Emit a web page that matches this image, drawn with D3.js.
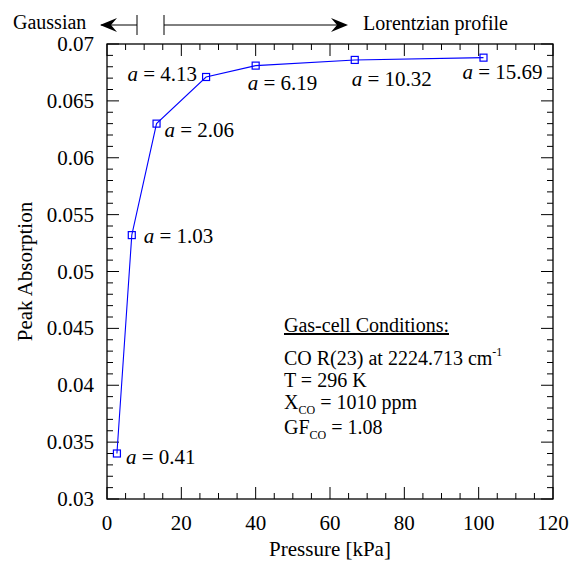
<!DOCTYPE html>
<html><head><meta charset="utf-8">
<script src="https://cdn.jsdelivr.net/npm/d3@7"></script>
</head>
<body style="margin:0">
<svg id="c" width="571" height="562"></svg>
<script>
const pressure = [2.67, 6.67, 13.33, 26.66, 40.0, 66.66, 101.3];
const peakAbs  = [0.0340, 0.0532, 0.0630, 0.0671, 0.0681, 0.0686, 0.0688];
const aLabels  = ["0.41", "1.03", "2.06", "4.13", "6.19", "10.32", "15.69"];
const xTicks = [0, 20, 40, 60, 80, 100, 120];
const yTicks = [0.03, 0.035, 0.04, 0.045, 0.05, 0.055, 0.06, 0.065, 0.07];
const yTickLabels = ["0.03","0.035","0.04","0.045","0.05","0.055","0.06","0.065","0.07"];
const conditions = ["CO R(23) at 2224.713 cm", "T = 296 K", "X", "GF"];

// layout
const labelOffsets = [[9,10,"start"],[12,8,"start"],[8,13,"start"],[-9,4,"end"],[-8,24,"start"],[-3,26,"start"],[-21,21,"start"]];
const L=107, R=553, T=44, B=499;
const FONT='"Liberation Serif"';
const svg=d3.select("#c");
const x=d3.scaleLinear().domain([0,120]).range([L,R]);
const y=d3.scaleLinear().domain([0.03,0.07]).range([B,T]);
function txt(parent,size){return parent.append("text").attr("font-size",size).style("font-family",FONT);}

const g=svg.append("g");
g.append("rect").attr("x",L).attr("y",T).attr("width",R-L).attr("height",B-T)
 .attr("fill","none").attr("stroke","#000").attr("stroke-width",1.3);

const xMinor=d3.range(0,121,5), yMinor=d3.range(0,41).map(i=>0.03+i*0.001);
function isMajorX(v){return Math.abs(v/20-Math.round(v/20))<1e-6;}
function isMajorY(v){return Math.abs(v/0.005-Math.round(v/0.005))<1e-4;}
xMinor.forEach(v=>{
  const len=isMajorX(v)?12:6;
  g.append("line").attr("x1",x(v)).attr("x2",x(v)).attr("y1",B).attr("y2",B-len).attr("stroke","#000");
  g.append("line").attr("x1",x(v)).attr("x2",x(v)).attr("y1",T).attr("y2",T+len).attr("stroke","#000");
});
yMinor.forEach(v=>{
  const len=isMajorY(v)?12:6;
  g.append("line").attr("y1",y(v)).attr("y2",y(v)).attr("x1",L).attr("x2",L+len).attr("stroke","#000");
  g.append("line").attr("y1",y(v)).attr("y2",y(v)).attr("x1",R).attr("x2",R-len).attr("stroke","#000");
});
xTicks.forEach(v=>{
  txt(g,21).attr("x",x(v)).attr("y",B+31).attr("text-anchor","middle").text(v);
});
yTicks.forEach((v,i)=>{
  txt(g,21).attr("x",L-13).attr("y",y(v)+7).attr("text-anchor","end").text(yTickLabels[i]);
});
txt(svg,21).attr("x",(L+R)/2).attr("y",556).attr("text-anchor","middle").text("Pressure [kPa]");
txt(svg,21).attr("transform",`translate(32,${(T+B)/2}) rotate(-90)`).attr("text-anchor","middle").text("Peak Absorption");

const line=d3.line().x((d,i)=>x(pressure[i])).y(d=>y(d));
g.append("path").attr("d",line(peakAbs)).attr("fill","none").attr("stroke","#0000ff").attr("stroke-width",1.1);
peakAbs.forEach((v,i)=>{
  g.append("rect").attr("x",x(pressure[i])-3.5).attr("y",y(v)-3.5).attr("width",7).attr("height",7)
   .attr("fill","none").attr("stroke","#0000ff").attr("stroke-width",1.2);
  const o=labelOffsets[i];
  const t=txt(g,21).attr("x",x(pressure[i])+o[0]).attr("y",y(v)+o[1]).attr("text-anchor",o[2]);
  t.append("tspan").attr("font-style","italic").text("a");
  t.append("tspan").text(" = "+aLabels[i]);
});

txt(svg,20).attr("x",13).attr("y",29).text("Gaussian");
txt(svg,20).attr("x",363).attr("y",30).text("Lorentzian profile");
const ay=25;
svg.append("line").attr("x1",101).attr("x2",137).attr("y1",ay).attr("y2",ay).attr("stroke","#000");
svg.append("line").attr("x1",137).attr("x2",137).attr("y1",15).attr("y2",35).attr("stroke","#000");
svg.append("line").attr("x1",164).attr("x2",164).attr("y1",15).attr("y2",35).attr("stroke","#000");
svg.append("line").attr("x1",164).attr("x2",346).attr("y1",ay).attr("y2",ay).attr("stroke","#000");
svg.append("path").attr("d",`M100,${ay} L117,${ay-7} L111,${ay} L117,${ay+7} Z`).attr("fill","#000");
svg.append("path").attr("d",`M348,${ay} L331,${ay-7} L337,${ay} L331,${ay+7} Z`).attr("fill","#000");

const bx=284;
txt(svg,20).attr("x",bx).attr("y",332).attr("text-decoration","underline").text("Gas-cell Conditions:");
const t1=txt(svg,20).attr("x",bx).attr("y",365).text(conditions[0]);
t1.append("tspan").attr("font-size",12).attr("dy",-9).text("-1");
txt(svg,20).attr("x",bx).attr("y",387).text(conditions[1]);
const t3=txt(svg,20).attr("x",bx).attr("y",409).text(conditions[2]);
t3.append("tspan").attr("font-size",12).attr("dy",5).text("CO");
t3.append("tspan").attr("dy",-5).text(" = 1010 ppm");
const t4=txt(svg,20).attr("x",bx).attr("y",434).text(conditions[3]);
t4.append("tspan").attr("font-size",12).attr("dy",5).text("CO");
t4.append("tspan").attr("dy",-5).text(" = 1.08");
</script></body></html>
